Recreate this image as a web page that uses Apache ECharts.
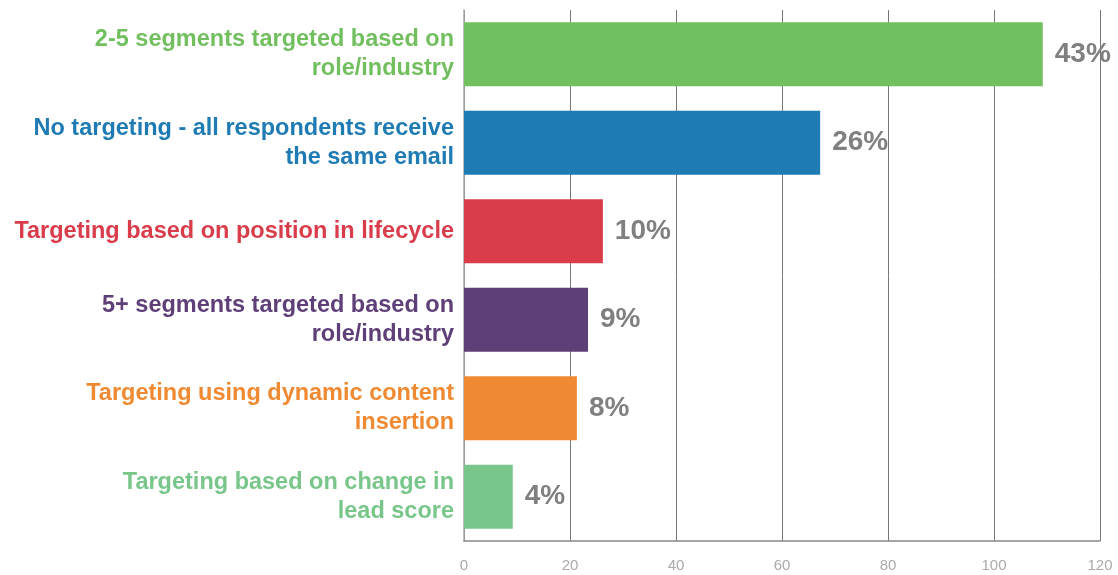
<!DOCTYPE html>
<html lang="en">
<head>
    <meta charset="UTF-8">
    <title>Email targeting</title>
    <style>
        html, body, #main {
            width: 100%;
            height: 100%;
            margin: 0;
            padding: 0;
            background: #fff;
        }
    </style>
    <script src="https://cdn.jsdelivr.net/npm/echarts@6/dist/echarts.min.js"></script>
</head>
<body>
    <div id="main"></div>
    <script>
        var categories = [
            '2-5 segments targeted based on\nrole/industry',
            'No targeting - all respondents receive\nthe same email',
            'Targeting based on position in lifecycle',
            '5+ segments targeted based on\nrole/industry',
            'Targeting using dynamic content\ninsertion',
            'Targeting based on change in\nlead score'
        ];
        var values = [109.2, 67.2, 26.2, 23.4, 21.3, 9.2];
        var percentLabels = ['43%', '26%', '10%', '9%', '8%', '4%'];
        var colors = ['#72bf5f', '#1f7bb4', '#d93c4a', '#5f3f78', '#ef8a33', '#79c68b'];
        var xTicks = { min: 0, max: 120, interval: 20 };

        var chart = echarts.init(document.getElementById('main'));

        chart.setOption({
            animation: false,
            grid: { left: 464, right: 18, top: 10, bottom: 34 },
            xAxis: {
                type: 'value',
                min: xTicks.min,
                max: xTicks.max,
                interval: xTicks.interval,
                axisLine: { show: true, lineStyle: { color: '#888', width: 1.5 } },
                axisTick: { show: false },
                splitLine: { show: true, lineStyle: { color: '#777', width: 1 } },
                axisLabel: {
                    color: '#aaa',
                    fontFamily: 'Liberation Sans',
                    fontSize: 15,
                    margin: 17
                }
            },
            yAxis: {
                type: 'category',
                inverse: true,
                data: categories,
                axisLine: { show: true, lineStyle: { color: '#aaa', width: 1.5 } },
                axisTick: { show: false },
                axisLabel: {
                    margin: 10,
                    align: 'right',
                    fontFamily: 'Liberation Sans',
                    fontWeight: 'bold',
                    fontSize: 23.5,
                    lineHeight: 29,
                    color: function (value, index) {
                        return colors[index];
                    }
                }
            },
            series: [{
                type: 'bar',
                barWidth: 64,
                data: values.map(function (v, i) {
                    return { value: v, itemStyle: { color: colors[i] } };
                }),
                label: {
                    show: true,
                    position: 'right',
                    distance: 12,
                    color: '#808080',
                    fontFamily: 'Liberation Sans',
                    fontWeight: 'bold',
                    fontSize: 28,
                    formatter: function (p) {
                        return percentLabels[p.dataIndex];
                    }
                }
            }]
        });
    </script>
</body>
</html>
